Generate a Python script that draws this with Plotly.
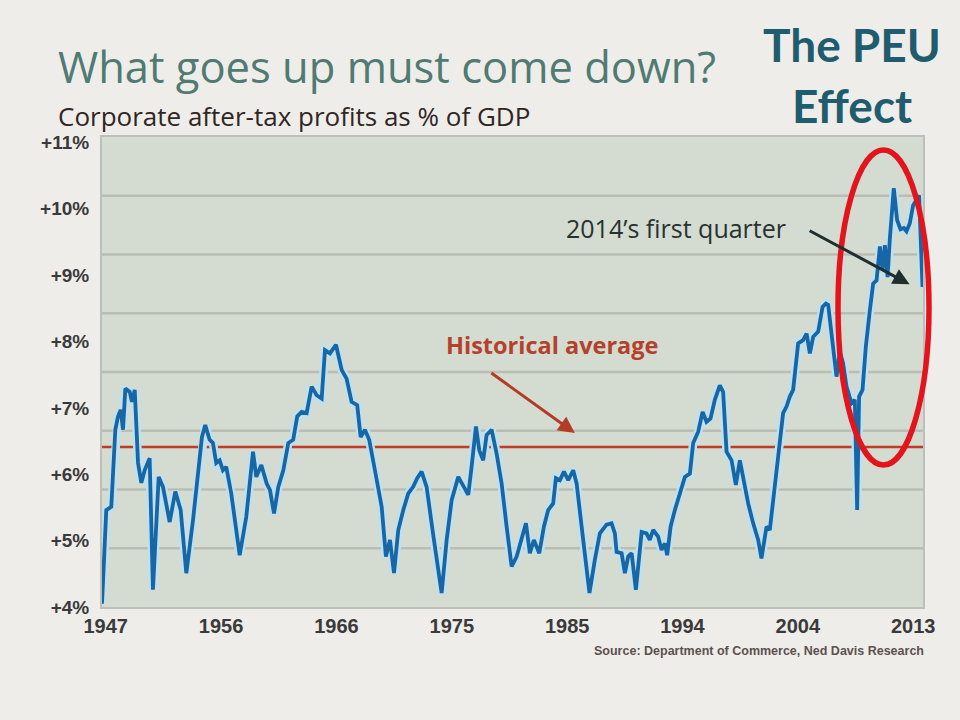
import plotly.graph_objects as go
import numpy as np

# ---------------- data ----------------
years = [1947.0, 1947.35, 1947.76, 1948.09, 1948.31, 1948.53, 1948.72, 1948.91, 1949.27, 1949.45,
         1949.68, 1949.95, 1950.22, 1950.49, 1950.90, 1951.17, 1951.64, 1951.99, 1952.54, 1953.00,
         1953.44, 1953.90, 1954.45, 1954.86, 1955.18, 1955.45, 1955.81, 1956.08, 1956.35, 1956.63,
         1956.90, 1957.17, 1957.58, 1958.27, 1958.81, 1959.36, 1959.63, 1960.04, 1960.48, 1960.75,
         1961.08, 1961.43, 1961.84, 1962.25, 1962.65, 1962.98, 1963.34, 1963.75, 1964.16, 1964.57,
         1964.98, 1965.25, 1965.66, 1966.15, 1966.62, 1967.02, 1967.43, 1967.89, 1968.17, 1968.52,
         1968.87, 1969.34, 1969.89, 1970.24, 1970.57, 1970.90, 1971.25, 1971.66, 1972.07, 1972.47,
         1972.80, 1973.16, 1973.57, 1974.10, 1974.80, 1975.21, 1975.62, 1976.16, 1976.57, 1976.98,
         1977.25, 1977.61, 1977.88, 1978.20, 1978.48, 1978.89, 1979.30, 1979.71, 1980.12, 1980.53,
         1980.94, 1981.35, 1981.70, 1982.02, 1982.35, 1982.79, 1983.17, 1983.52, 1983.93, 1984.15,
         1984.48, 1984.81, 1985.16, 1985.57, 1985.85, 1986.26, 1986.90, 1987.34, 1987.75, 1988.30,
         1988.71, 1988.98, 1989.12, 1989.53, 1989.80, 1990.07, 1990.35, 1990.70, 1991.17, 1991.57,
         1991.84, 1992.11, 1992.52, 1992.80, 1993.07, 1993.26, 1993.54, 1993.89, 1994.30, 1994.71,
         1995.12, 1995.39, 1995.80, 1996.16, 1996.48, 1996.81, 1997.16, 1997.57, 1997.84, 1998.12,
         1998.53, 1998.88, 1999.21, 1999.48, 1999.89, 2000.30, 2000.71, 2000.98, 2001.39, 2001.66,
         2001.93, 2002.34, 2002.75, 2003.03, 2003.30, 2003.57, 2003.98, 2004.39, 2004.67, 2004.94,
         2005.21, 2005.62, 2005.98, 2006.25, 2006.44, 2007.12, 2007.39, 2007.66, 2007.94, 2008.35,
         2008.62, 2008.81, 2008.97, 2009.25, 2009.52, 2009.85, 2010.12, 2010.40, 2010.67, 2010.89,
         2011.08, 2011.30, 2011.48, 2011.81, 2012.08, 2012.36, 2012.63, 2012.85, 2013.12, 2013.39,
         2013.88, 2014.16]
profits_pct = [4.05, 5.46, 5.51, 6.67, 6.87, 6.97, 6.67, 7.29, 7.24, 7.09,
               7.27, 6.17, 5.87, 6.06, 6.24, 4.26, 5.96, 5.81, 5.28, 5.74,
               5.46, 4.51, 5.31, 6.06, 6.56, 6.74, 6.52, 6.47, 6.17, 6.21,
               6.06, 6.11, 5.71, 4.78, 5.36, 6.34, 5.96, 6.14, 5.86, 5.76,
               5.41, 5.81, 6.06, 6.47, 6.52, 6.87, 6.94, 6.92, 7.32, 7.19,
               7.14, 7.87, 7.82, 7.95, 7.57, 7.44, 7.09, 7.04, 6.56, 6.67,
               6.52, 6.06, 5.51, 4.76, 5.01, 4.51, 5.16, 5.46, 5.71, 5.81,
               5.94, 6.04, 5.81, 5.10, 4.21, 5.01, 5.61, 5.96, 5.81, 5.69,
               6.11, 6.72, 6.36, 6.21, 6.59, 6.67, 6.31, 5.86, 5.21, 4.61,
               4.76, 5.01, 5.26, 4.81, 5.01, 4.81, 5.21, 5.46, 5.56, 5.94,
               5.91, 6.04, 5.91, 6.06, 5.86, 5.21, 4.21, 4.71, 5.11, 5.24,
               5.26, 5.11, 4.83, 4.81, 4.51, 4.76, 4.81, 4.26, 5.13, 5.11,
               5.01, 5.16, 5.06, 4.86, 4.96, 4.78, 5.21, 5.46, 5.71, 5.96,
               6.01, 6.47, 6.64, 6.94, 6.79, 6.84, 7.12, 7.34, 7.24, 6.34,
               6.21, 5.84, 6.21, 5.96, 5.56, 5.26, 5.01, 4.73, 5.21, 5.16,
               5.61, 6.36, 6.92, 7.02, 7.17, 7.27, 7.97, 8.02, 8.12, 7.82,
               8.07, 8.15, 8.52, 8.57, 8.55, 7.47, 7.85, 7.67, 7.32, 7.07,
               7.12, 5.46, 7.17, 7.27, 7.92, 8.47, 8.87, 8.92, 9.43, 9.08,
               9.45, 8.97, 9.53, 10.31, 9.83, 9.69, 9.71, 9.66, 9.78, 10.05,
               10.20, 8.82]
historical_average = 6.41
x_tick_labels = ["1947", "1956", "1966", "1975", "1985", "1994", "2004", "2013"]
y_tick_values = [4, 5, 6, 7, 8, 9, 10, 11]
y_tick_labels = ["+4%", "+5%", "+6%", "+7%", "+8%", "+9%", "+10%", "+11%"]

# ---------------- layout geometry ----------------
W, H = 960, 720
L, R, T, B = 102, 923, 137, 607          # plot area in pixels
pw, ph = R - L, B - T


def px(xp):
    return (xp - L) / pw


def py(yp):
    return (B - yp) / ph


x_range = [1947.0, 2014.2]
y_range = [4.0, 11.08]
tick_pos = list(np.linspace(1947.3, 2013.4, len(x_tick_labels)))

fig = go.Figure()
# light halo under the line
fig.add_trace(go.Scatter(x=years, y=profits_pct, mode="lines",
                         line=dict(color="#bfe1ef", width=8.5), hoverinfo="skip",
                         showlegend=False))
fig.add_trace(go.Scatter(x=years, y=profits_pct, mode="lines",
                         line=dict(color="#1766a6", width=3.8),
                         showlegend=False))

shapes = []
# gridlines: 8 equal bands
for k in range(1, 8):
    shapes.append(dict(type="line", xref="x domain", yref="y domain", x0=0, x1=1,
                       y0=k / 8, y1=k / 8, layer="below",
                       line=dict(color="#babdb3", width=2.5)))
# historical average line
shapes.append(dict(type="line", xref="x domain", yref="y", x0=0, x1=1,
                   y0=historical_average, y1=historical_average, layer="below",
                   line=dict(color="#c23b26", width=2.5)))
# red ellipse
shapes.append(dict(type="circle", xref="paper", yref="paper",
                   x0=px(838), x1=px(929), y0=py(465), y1=py(150),
                   line=dict(color="#e3141c", width=5.5)))

narrow = "Liberation Sans, Arial, sans-serif"
annotations = [
    dict(text="What goes up must come down?", xref="paper", yref="paper",
         x=px(56), y=py(67), xanchor="left", yanchor="middle", showarrow=False,
         font=dict(family="Open Sans", size=43.5, color="#4f7b73")),
    dict(text="Corporate after-tax profits as % of GDP", xref="paper", yref="paper",
         x=px(56), y=py(116), xanchor="left", yanchor="middle", showarrow=False,
         font=dict(family="Open Sans", size=26, color="#2f2624")),
    dict(text="<b>The PEU</b>", xref="paper", yref="paper",
         x=px(852), y=py(45), xanchor="center", yanchor="middle", showarrow=False,
         font=dict(family="Lato", size=46, color="#1e5c6e")),
    dict(text="<b>Effect</b>", xref="paper", yref="paper",
         x=px(852), y=py(106), xanchor="center", yanchor="middle", showarrow=False,
         font=dict(family="Lato", size=46, color="#1e5c6e")),
    dict(text="<b>Source: Department of Commerce, Ned Davis Research</b>",
         xref="paper", yref="paper", x=px(926), y=py(651), xanchor="right",
         yanchor="middle", showarrow=False,
         font=dict(family=narrow, size=12.5, color="#5b514d")),
    dict(text="Historical average", xref="x", yref="y", x=1983.8, y=7.95,
         xanchor="center", yanchor="middle", showarrow=False,
         font=dict(family="Open Sans", size=23.5, color="#b4412c", weight="bold")),
    dict(text="", xref="x", yref="y", x=1985.7, y=6.62, axref="x", ayref="y",
         ax=1978.75, ay=7.54, showarrow=True, arrowhead=2, arrowsize=1.1,
         arrowwidth=3, arrowcolor="#b23c26", standoff=0, startstandoff=0),
    dict(text="2014\u2019s first quarter", xref="x", yref="y", x=1994.0, y=9.71,
         xanchor="center", yanchor="middle", showarrow=False,
         font=dict(family="Open Sans", size=25, color="#26332f")),
    dict(text="", xref="x", yref="y", x=2013.1, y=8.86, axref="x", ayref="y",
         ax=2004.8, ay=9.68, showarrow=True, arrowhead=2, arrowsize=1.1,
         arrowwidth=3, arrowcolor="#1f2f2e", standoff=0, startstandoff=0),
]

fig.update_layout(
    width=W, height=H,
    margin=dict(l=L, r=W - R, t=T, b=H - B, pad=0),
    paper_bgcolor="#efedea", plot_bgcolor="#d4dbd0",
    shapes=shapes, annotations=annotations, showlegend=False,
    xaxis=dict(range=x_range, tickvals=tick_pos, ticktext=x_tick_labels,
               showgrid=False, zeroline=False, ticks="", ticklabelstandoff=0,
               showline=True, mirror=True, linecolor="#bcc0b8", linewidth=2,
               tickfont=dict(family=narrow, size=20, color="#3a3a3a", weight="bold")),
    yaxis=dict(range=y_range, tickvals=y_tick_values, ticktext=y_tick_labels,
               showgrid=False, zeroline=False, ticks="", ticklabelstandoff=7,
               showline=True, mirror=True, linecolor="#bcc0b8", linewidth=2,
               tickfont=dict(family=narrow, size=19, color="#3a3a3a", weight="bold")),
)

fig.write_html("out.html", config={"displayModeBar": False},
               post_script="document.body.style.margin='0px';"
                           "document.body.style.overflow='hidden';"
                           "document.body.style.background='#efedea';")
